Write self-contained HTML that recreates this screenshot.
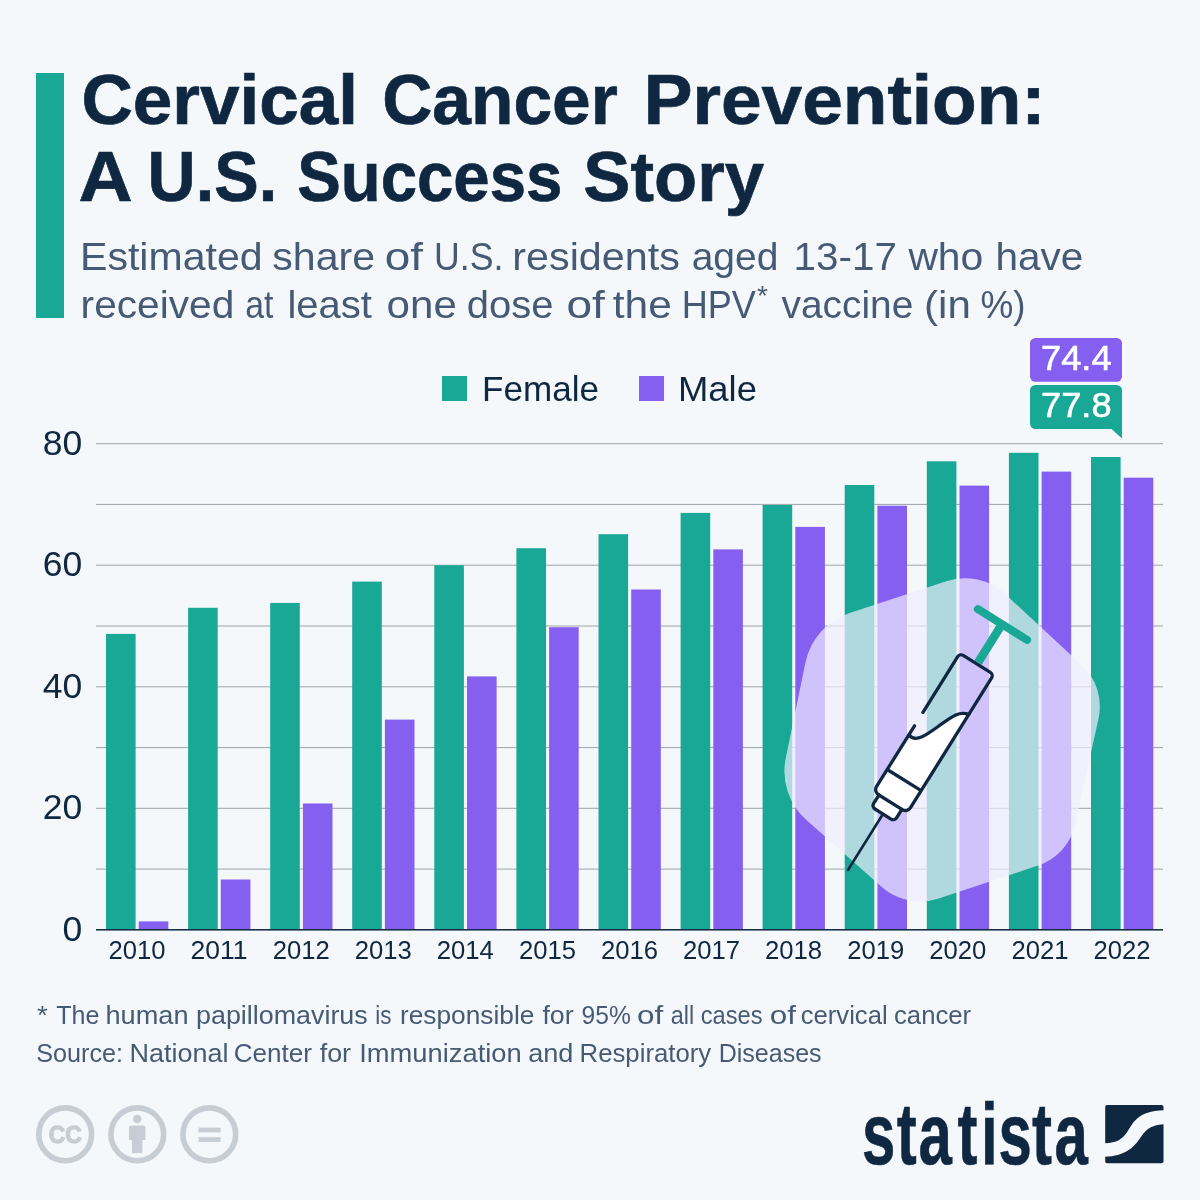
<!DOCTYPE html>
<html lang="en"><head><meta charset="utf-8"><title>Cervical Cancer Prevention: A U.S. Success Story</title>
<style>html,body{margin:0;padding:0;background:#f4f8fb}svg{display:block}text{font-family:"Liberation Sans",sans-serif}</style></head><body>
<svg width="1200" height="1200" viewBox="0 0 1200 1200">
<rect width="1200" height="1200" fill="#f4f8fb"/>
<rect x="36" y="73" width="28" height="245" fill="#1aa896"/>
<text y="124" font-size="71" font-weight="700" fill="#0f2741" stroke="#0f2741" stroke-width="0.7"><tspan x="81.4" textLength="276.6" lengthAdjust="spacingAndGlyphs">Cervical</tspan> <tspan x="382.2" textLength="235.6" lengthAdjust="spacingAndGlyphs">Cancer</tspan> <tspan x="643.8" textLength="401.9" lengthAdjust="spacingAndGlyphs">Prevention:</tspan></text>
<text y="201" font-size="71" font-weight="700" fill="#0f2741" stroke="#0f2741" stroke-width="0.7"><tspan x="78.6" textLength="51.3" lengthAdjust="spacingAndGlyphs">A</tspan> <tspan x="147.6" textLength="129.6" lengthAdjust="spacingAndGlyphs">U.S.</tspan> <tspan x="297.2" textLength="265.2" lengthAdjust="spacingAndGlyphs">Success</tspan> <tspan x="583.3" textLength="180.7" lengthAdjust="spacingAndGlyphs">Story</tspan></text>
<text y="269.6" font-size="39.5" fill="#475a75"><tspan x="80.0" textLength="182.6" lengthAdjust="spacingAndGlyphs">Estimated</tspan> <tspan x="272.2" textLength="102.9" lengthAdjust="spacingAndGlyphs">share</tspan> <tspan x="384.8" textLength="38.3" lengthAdjust="spacingAndGlyphs">of</tspan> <tspan x="434.0" textLength="69.3" lengthAdjust="spacingAndGlyphs">U.S.</tspan> <tspan x="512.3" textLength="167.5" lengthAdjust="spacingAndGlyphs">residents</tspan> <tspan x="691.7" textLength="86.7" lengthAdjust="spacingAndGlyphs">aged</tspan> <tspan x="793.6" textLength="103.3" lengthAdjust="spacingAndGlyphs">13-17</tspan> <tspan x="908.4" textLength="74.9" lengthAdjust="spacingAndGlyphs">who</tspan> <tspan x="995.5" textLength="87.9" lengthAdjust="spacingAndGlyphs">have</tspan></text>
<text y="317.6" font-size="39.5" fill="#475a75"><tspan x="80.6" textLength="153.7" lengthAdjust="spacingAndGlyphs">received</tspan> <tspan x="245.3" textLength="28.2" lengthAdjust="spacingAndGlyphs">at</tspan> <tspan x="287.4" textLength="84.6" lengthAdjust="spacingAndGlyphs">least</tspan> <tspan x="386.6" textLength="70.2" lengthAdjust="spacingAndGlyphs">one</tspan> <tspan x="466.7" textLength="86.7" lengthAdjust="spacingAndGlyphs">dose</tspan> <tspan x="566.4" textLength="38.4" lengthAdjust="spacingAndGlyphs">of</tspan> <tspan x="612.8" textLength="59.1" lengthAdjust="spacingAndGlyphs">the</tspan> <tspan x="681.7" textLength="74.2" lengthAdjust="spacingAndGlyphs">HPV</tspan> <tspan x="781.6" textLength="131.7" lengthAdjust="spacingAndGlyphs">vaccine</tspan> <tspan x="924.1" textLength="46.8" lengthAdjust="spacingAndGlyphs">(in</tspan> <tspan x="980.4" textLength="45.1" lengthAdjust="spacingAndGlyphs">%)</tspan></text>
<text x="757" y="304.6" font-size="28" fill="#475a75">*</text>
<rect x="442" y="376" width="25" height="25" fill="#1aa896"/>
<text x="482" y="400.7" font-size="35" fill="#0f2741" textLength="117" lengthAdjust="spacingAndGlyphs">Female</text>
<rect x="639" y="376" width="25" height="25" fill="#8560f0"/>
<text x="678" y="400.7" font-size="35" fill="#0f2741" textLength="79" lengthAdjust="spacingAndGlyphs">Male</text>
<rect x="96" y="868.57" width="1067" height="1.1" fill="#a6acb2"/>
<rect x="96" y="807.79" width="1067" height="1.1" fill="#a6acb2"/>
<rect x="96" y="747.01" width="1067" height="1.1" fill="#a6acb2"/>
<rect x="96" y="686.23" width="1067" height="1.1" fill="#a6acb2"/>
<rect x="96" y="625.45" width="1067" height="1.1" fill="#a6acb2"/>
<rect x="96" y="564.67" width="1067" height="1.1" fill="#a6acb2"/>
<rect x="96" y="503.89" width="1067" height="1.1" fill="#a6acb2"/>
<rect x="96" y="443.11" width="1067" height="1.1" fill="#a6acb2"/>
<text x="82.3" y="940.8" font-size="35.5" text-anchor="end" fill="#0f2741">0</text>
<text x="82.3" y="819.2" font-size="35.5" text-anchor="end" fill="#0f2741" textLength="39.5" lengthAdjust="spacingAndGlyphs">20</text>
<text x="82.3" y="697.7" font-size="35.5" text-anchor="end" fill="#0f2741" textLength="39.5" lengthAdjust="spacingAndGlyphs">40</text>
<text x="82.3" y="576.1" font-size="35.5" text-anchor="end" fill="#0f2741" textLength="39.5" lengthAdjust="spacingAndGlyphs">60</text>
<text x="82.3" y="454.6" font-size="35.5" text-anchor="end" fill="#0f2741" textLength="39.5" lengthAdjust="spacingAndGlyphs">80</text>
<rect x="106.0" y="633.9" width="29.6" height="296.0" fill="#1aa896"/>
<rect x="138.7" y="921.4" width="29.6" height="8.5" fill="#8560f0"/>
<text x="137.0" y="958.8" font-size="25.5" text-anchor="middle" fill="#0f2741" textLength="57" lengthAdjust="spacingAndGlyphs">2010</text>
<rect x="188.1" y="607.8" width="29.6" height="322.1" fill="#1aa896"/>
<rect x="220.8" y="879.5" width="29.6" height="50.4" fill="#8560f0"/>
<text x="219.1" y="958.8" font-size="25.5" text-anchor="middle" fill="#0f2741" textLength="57" lengthAdjust="spacingAndGlyphs">2011</text>
<rect x="270.2" y="602.9" width="29.6" height="327.0" fill="#1aa896"/>
<rect x="302.9" y="803.5" width="29.6" height="126.4" fill="#8560f0"/>
<text x="301.2" y="958.8" font-size="25.5" text-anchor="middle" fill="#0f2741" textLength="57" lengthAdjust="spacingAndGlyphs">2012</text>
<rect x="352.2" y="581.6" width="29.6" height="348.3" fill="#1aa896"/>
<rect x="384.9" y="719.6" width="29.6" height="210.3" fill="#8560f0"/>
<text x="383.2" y="958.8" font-size="25.5" text-anchor="middle" fill="#0f2741" textLength="57" lengthAdjust="spacingAndGlyphs">2013</text>
<rect x="434.3" y="565.2" width="29.6" height="364.7" fill="#1aa896"/>
<rect x="467.0" y="676.4" width="29.6" height="253.5" fill="#8560f0"/>
<text x="465.3" y="958.8" font-size="25.5" text-anchor="middle" fill="#0f2741" textLength="57" lengthAdjust="spacingAndGlyphs">2014</text>
<rect x="516.4" y="548.2" width="29.6" height="381.7" fill="#1aa896"/>
<rect x="549.1" y="627.2" width="29.6" height="302.7" fill="#8560f0"/>
<text x="547.4" y="958.8" font-size="25.5" text-anchor="middle" fill="#0f2741" textLength="57" lengthAdjust="spacingAndGlyphs">2015</text>
<rect x="598.5" y="534.2" width="29.6" height="395.7" fill="#1aa896"/>
<rect x="631.2" y="589.5" width="29.6" height="340.4" fill="#8560f0"/>
<text x="629.5" y="958.8" font-size="25.5" text-anchor="middle" fill="#0f2741" textLength="57" lengthAdjust="spacingAndGlyphs">2016</text>
<rect x="680.6" y="512.9" width="29.6" height="417.0" fill="#1aa896"/>
<rect x="713.3" y="549.4" width="29.6" height="380.5" fill="#8560f0"/>
<text x="711.6" y="958.8" font-size="25.5" text-anchor="middle" fill="#0f2741" textLength="57" lengthAdjust="spacingAndGlyphs">2017</text>
<rect x="762.6" y="505.0" width="29.6" height="424.9" fill="#1aa896"/>
<rect x="795.3" y="526.9" width="29.6" height="403.0" fill="#8560f0"/>
<text x="793.6" y="958.8" font-size="25.5" text-anchor="middle" fill="#0f2741" textLength="57" lengthAdjust="spacingAndGlyphs">2018</text>
<rect x="844.7" y="485.0" width="29.6" height="444.9" fill="#1aa896"/>
<rect x="877.4" y="505.7" width="29.6" height="424.2" fill="#8560f0"/>
<text x="875.7" y="958.8" font-size="25.5" text-anchor="middle" fill="#0f2741" textLength="57" lengthAdjust="spacingAndGlyphs">2019</text>
<rect x="926.8" y="461.3" width="29.6" height="468.6" fill="#1aa896"/>
<rect x="959.5" y="485.6" width="29.6" height="444.3" fill="#8560f0"/>
<text x="957.8" y="958.8" font-size="25.5" text-anchor="middle" fill="#0f2741" textLength="57" lengthAdjust="spacingAndGlyphs">2020</text>
<rect x="1008.9" y="452.8" width="29.6" height="477.1" fill="#1aa896"/>
<rect x="1041.6" y="471.6" width="29.6" height="458.3" fill="#8560f0"/>
<text x="1039.9" y="958.8" font-size="25.5" text-anchor="middle" fill="#0f2741" textLength="57" lengthAdjust="spacingAndGlyphs">2021</text>
<rect x="1091.0" y="457.0" width="29.6" height="472.9" fill="#1aa896"/>
<rect x="1123.7" y="477.7" width="29.6" height="452.2" fill="#8560f0"/>
<text x="1122.0" y="958.8" font-size="25.5" text-anchor="middle" fill="#0f2741" textLength="57" lengthAdjust="spacingAndGlyphs">2022</text>
<rect x="96" y="929.05" width="1067" height="1.5" fill="#0f2741"/>
<rect x="1030" y="338" width="92" height="43.8" rx="5.5" fill="#8560f0"/>
<path d="M1035.5 385h81a5.5 5.5 0 0 1 5.5 5.5v48l-10.5 -9.5h-76a5.5 5.5 0 0 1 -5.5 -5.5v-33a5.5 5.5 0 0 1 5.5 -5.5z" fill="#1aa896"/>
<text x="1076.3" y="369.5" font-size="35" text-anchor="middle" fill="#fff" stroke="#fff" stroke-width="0.6" textLength="70.5" lengthAdjust="spacingAndGlyphs">74.4</text>
<text x="1076.3" y="416.6" font-size="35" text-anchor="middle" fill="#fff" stroke="#fff" stroke-width="0.6" textLength="70.5" lengthAdjust="spacingAndGlyphs">77.8</text>
<path d="M946.3 581.2 A59.4 59.4 0 0 1 1005.2 594.1 L1081.7 665.0 A56.5 56.5 0 0 1 1098.5 718.7 L1075.0 824.7 A55.8 55.8 0 0 1 1038.1 865.6 L938.7 898.5 A58.2 58.2 0 0 1 881.8 886.9 L806.4 820.1 A65.3 65.3 0 0 1 785.8 758.0 L805.5 662.3 A66.2 66.2 0 0 1 849.7 612.9Z" fill="#f0edfd" fill-opacity="0.7"/>
<g transform="translate(848 870) rotate(32)" fill="none" stroke="#0f2741" stroke-width="3.3" stroke-linecap="round" stroke-linejoin="round">
<path d="M-28 -290H30" stroke="#1aa896" stroke-width="8"/>
<path d="M0.3 -290V-245" stroke="#1aa896" stroke-width="8.5" stroke-linecap="butt"/>
<path d="M0 0V-66" stroke-width="2.6"/>
<path d="M-20 -147C-10 -143 -5 -156 1 -171S10 -194 20 -196V-86a6 6 0 0 1 -6 6H-14a6 6 0 0 1 -6 -6Z" fill="#fff" stroke="none"/>
<path d="M-13.5 -80V-70a4 4 0 0 0 4 4H9.5a4 4 0 0 0 4 -4V-80" fill="#fff"/>
<path d="M-20 -173.5V-239a4 4 0 0 1 4 -4H16a4 4 0 0 1 4 4V-86a6 6 0 0 1 -6 6H-14a6 6 0 0 1 -6 -6V-157.5"/>
<path d="M-20 -147C-10 -143 -5 -156 1 -171S10 -194 20 -196"/>
<path d="M-20 -106H20" stroke-linecap="butt"/>
</g>
<g fill="none" stroke="#c7cdd4" stroke-width="5.6"><circle cx="65.2" cy="1134.3" r="26.4"/><circle cx="137.3" cy="1134.3" r="26.4"/><circle cx="209.3" cy="1134.3" r="26.4"/></g>
<text x="65.2" y="1143.2" font-size="23.5" font-weight="700" text-anchor="middle" stroke="#c7cdd4" stroke-width="1.3" fill="#c7cdd4" textLength="33" lengthAdjust="spacingAndGlyphs">CC</text>
<g fill="#c7cdd4"><circle cx="137.2" cy="1119" r="4.2"/><path d="M129 1127.6a2 2 0 0 1 2 -2h12.4a2 2 0 0 1 2 2V1140h-3V1153h-10.4V1140h-3Z"/><rect x="198.6" y="1127.6" width="22" height="4.8"/><rect x="198.6" y="1137.2" width="22" height="4.8"/></g>
<text transform="translate(0 1163.5) scale(0.69 1)" x="1249.4 1299.6 1331.3 1387.7 1421.6 1447.2 1495.8 1528.1" y="0" font-size="87" font-weight="700" fill="#0f2741" stroke="#0f2741" stroke-width="0.6">statista</text>
<g transform="translate(1105.2 1105)"><rect width="58.3" height="58.3" rx="2" fill="#0f2741"/><path d="M-0.5 38.25C12 38 17 34 22 27C28 18 32 6 58.8 5.25V19.2C44 20 40 26 35 33C28 43 20 51 -0.5 51.75Z" fill="#f4f8fb"/></g>
<text y="1024" font-size="25" fill="#475a75"><tspan x="36.9" textLength="10.8" lengthAdjust="spacingAndGlyphs">*</tspan> <tspan x="56.2" textLength="43.2" lengthAdjust="spacingAndGlyphs">The</tspan> <tspan x="105.5" textLength="83.0" lengthAdjust="spacingAndGlyphs">human</tspan> <tspan x="196.0" textLength="171.7" lengthAdjust="spacingAndGlyphs">papillomavirus</tspan> <tspan x="375.3" textLength="16.2" lengthAdjust="spacingAndGlyphs">is</tspan> <tspan x="400.0" textLength="134.4" lengthAdjust="spacingAndGlyphs">responsible</tspan> <tspan x="542.4" textLength="31.3" lengthAdjust="spacingAndGlyphs">for</tspan> <tspan x="581.6" textLength="49.2" lengthAdjust="spacingAndGlyphs">95%</tspan> <tspan x="637.0" textLength="26.2" lengthAdjust="spacingAndGlyphs">of</tspan> <tspan x="670.8" textLength="23.4" lengthAdjust="spacingAndGlyphs">all</tspan> <tspan x="700.8" textLength="61.8" lengthAdjust="spacingAndGlyphs">cases</tspan> <tspan x="769.7" textLength="26.2" lengthAdjust="spacingAndGlyphs">of</tspan> <tspan x="800.7" textLength="87.0" lengthAdjust="spacingAndGlyphs">cervical</tspan> <tspan x="894.0" textLength="77.1" lengthAdjust="spacingAndGlyphs">cancer</tspan></text>
<text y="1061.6" font-size="25" fill="#475a75"><tspan x="36.2" textLength="86.8" lengthAdjust="spacingAndGlyphs">Source:</tspan> <tspan x="129.5" textLength="98.9" lengthAdjust="spacingAndGlyphs">National</tspan> <tspan x="233.7" textLength="78.3" lengthAdjust="spacingAndGlyphs">Center</tspan> <tspan x="319.7" textLength="31.4" lengthAdjust="spacingAndGlyphs">for</tspan> <tspan x="359.2" textLength="162.5" lengthAdjust="spacingAndGlyphs">Immunization</tspan> <tspan x="528.2" textLength="45.2" lengthAdjust="spacingAndGlyphs">and</tspan> <tspan x="579.6" textLength="131.6" lengthAdjust="spacingAndGlyphs">Respiratory</tspan> <tspan x="718.7" textLength="102.9" lengthAdjust="spacingAndGlyphs">Diseases</tspan></text>
</svg></body></html>
